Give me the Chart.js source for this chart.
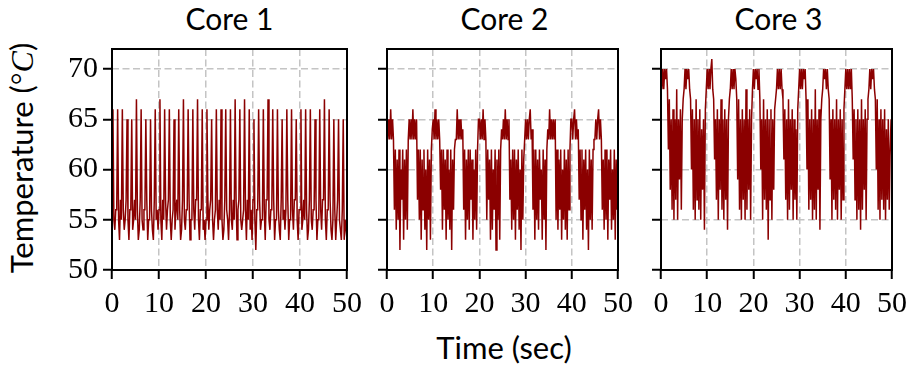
<!DOCTYPE html>
<html>
<head>
<meta charset="utf-8">
<script src="https://cdn.jsdelivr.net/npm/chart.js@4.4.0/dist/chart.umd.min.js"></script>
<style>
  body { margin: 0; width: 914px; height: 371px; position: relative; background: #fff; overflow: hidden; }
  canvas { position: absolute; top: 0; }
  .title { position: absolute; top: 3px; width: 235px; text-align: center; font-family: Lato, sans-serif; font-size: 30px; line-height: 30px; color: #000; }
  #ylabel { position: absolute; left: 22px; top: 158px; transform: translate(-50%, -50%) rotate(-90deg); white-space: nowrap; font-family: Lato, sans-serif; font-size: 31px; line-height: 31px; }
  #ylabel .m { font-family: "Liberation Serif", serif; font-size: 32px; }
  #xlabel { position: absolute; left: 504px; top: 332px; transform: translateX(-50%); white-space: nowrap; font-family: Lato, sans-serif; font-size: 31px; line-height: 31px; }
</style>
</head>
<body>
<div class="title" style="left:112px">Core 1</div>
<div class="title" style="left:387px">Core 2</div>
<div class="title" style="left:661px">Core 3</div>
<div id="ylabel">Temperature (<span class="m">°<i>C</i></span>)</div>
<div id="xlabel">Time (sec)</div>
<canvas id="c1" width="372" height="371" style="left:0px"></canvas>
<canvas id="c2" width="275" height="371" style="left:365px"></canvas>
<canvas id="c3" width="274" height="371" style="left:640px"></canvas>
<script>
// sampling step in seconds
const dt = 0.2;
const xTicks = [0, 10, 20, 30, 40, 50];
const yTicks = [50, 55, 60, 65, 70];

// temperatures, one row = 5 seconds
const core1 = [
  57,66,55,54,56, 56,66,55,53,57, 55,66,56,54,55, 57,65,55,53,56, 56,65,54,55,57,
  55,67,56,53,54, 57,66,55,54,56, 56,65,57,53,55, 55,65,56,54,53, 57,66,55,56,54,
  56,67,55,53,57, 55,66,57,54,56, 57,66,55,53,55, 56,65,54,56,57, 55,66,56,53,54,
  57,67,55,54,56, 56,66,57,53,55, 55,66,56,54,57, 57,67,55,53,56, 56,66,54,55,53,
  55,66,57,54,56, 57,65,55,53,55, 56,66,56,54,57, 55,66,55,53,54, 57,66,56,55,53,
  56,66,55,54,57, 55,67,57,53,56, 57,66,55,54,55, 56,67,56,53,57, 55,66,54,56,53,
  57,65,55,52,56, 56,66,57,54,55, 55,66,56,53,57, 57,67,55,54,56, 56,66,57,53,55,
  55,66,56,54,53, 57,65,55,56,54, 56,66,57,53,55, 55,66,56,54,57, 57,65,55,53,56,
  56,66,54,55,57, 55,66,56,53,54, 57,66,55,54,56, 56,65,57,53,55, 55,66,56,54,57,
  57,67,55,53,56, 56,66,57,54,53, 55,65,56,53,55, 57,65,55,54,53, 56,65,53,55,54,
  53
];

const core2 = [
  65,63,65,63,66,63,65,63, 56,62,54,61,55,62,52,60,57,62,53,61,55,62,54,63,65,
  63,65,63,66,63,65,63,65, 57,62,55,62,53,61,56,62,54,60,52,62,55,61,53,62,64,
  65,63,66,63,65,63,65,63, 58,62,54,62,56,61,53,62,55,60,54,62,52,61,56,62,63,
  63,66,63,65,63,65,63,64, 56,62,53,61,55,62,54,62,57,61,53,60,55,62,54,62,65,
  65,63,65,63,66,63,65,63, 55,62,57,61,53,62,54,60,56,62,52,61,55,62,53,62,64,
  63,65,63,66,63,65,63,65, 57,61,54,62,55,62,53,61,56,62,54,60,52,62,55,61,63,
  65,63,65,63,65,66,63,64, 56,62,53,62,55,61,54,62,57,60,53,62,55,61,52,62,64,
  63,66,63,65,63,65,63,65, 55,62,54,61,56,62,53,60,55,62,54,61,53,62,56,62,65,
  65,63,65,66,63,65,63,64, 57,62,55,62,53,61,56,62,54,60,52,62,55,61,54,62,63,
  63,65,63,65,66,63,65,63, 56,61,54,62,55,62,53,61,57,62,54,60,55,62,53,61,56,
  62
];

const core3 = [
  70,68,70,68,70,69,70,68, 62,67,58,65,56,66,55,65,57,68,55,65,59,66,56,65,67,
  68,70,68,70,69,70,68,67, 60,66,56,65,55,67,57,65,56,66,55,64,58,65,54,66,68,
  70,68,70,68,70,71,68,67, 61,65,57,66,55,65,58,67,56,65,55,66,57,65,54,65,67,
  68,70,68,70,68,70,69,67, 59,67,56,65,55,66,57,65,55,68,56,65,58,66,55,65,68,
  70,68,70,69,70,68,70,67, 60,65,55,67,57,65,56,66,53,65,57,66,55,65,58,66,67,
  68,70,68,70,68,70,68,67, 61,66,57,65,55,67,56,65,58,66,55,65,57,64,55,66,68,
  70,68,70,68,70,69,70,67, 60,67,56,65,57,66,55,65,56,68,55,65,58,66,54,65,67,
  68,70,69,70,68,70,68,67, 59,65,55,66,57,65,56,67,55,65,58,66,55,65,57,66,68,
  70,68,70,68,70,68,70,67, 61,66,57,65,55,66,56,65,54,67,56,65,58,66,55,65,67,
  68,70,68,70,69,70,68,67, 60,67,56,65,55,66,57,65,56,66,55,64,57,65,56,62,65,
  60
];

const lineColor = '#8b0000';
const tickFont = { family: 'Liberation Serif', size: 30 };

const framePlugin = {
  id: 'frame',
  afterDraw(chart) {
    const { ctx, chartArea: a } = chart;
    ctx.save();
    ctx.strokeStyle = '#000';
    ctx.lineWidth = 2;
    ctx.strokeRect(a.left, a.top, a.right - a.left, a.bottom - a.top);
    ctx.restore();
  }
};

const gridOpts = {
  color: '#c4c4c4',
  lineWidth: 1.5,
  tickColor: '#000',
  tickLength: 9,
  tickWidth: 2
};
const borderOpts = { display: false, dash: [7, 3.5] };

function makeChart(id, values, showLabels, yWidth, padRight) {
  const points = values.map((v, i) => ({ x: i * dt, y: v }));
  return new Chart(document.getElementById(id), {
    type: 'line',
    data: {
      datasets: [{
        data: points,
        borderColor: lineColor,
        borderWidth: 1.5,
        pointRadius: 0,
        fill: false,
        tension: 0
      }]
    },
    options: {
      responsive: false,
      animation: false,
      layout: { padding: { left: 0, right: padRight, top: 49, bottom: 0 } },
      plugins: { legend: { display: false }, tooltip: { enabled: false } },
      scales: {
        x: {
          type: 'linear', min: 0, max: 50,
          afterFit: s => { s.height = 101; },
          afterBuildTicks: s => { s.ticks = xTicks.map(v => ({ value: v })); },
          ticks: { autoSkip: false, maxRotation: 0, padding: 7, color: '#000', font: tickFont },
          grid: gridOpts,
          border: borderOpts
        },
        y: {
          type: 'linear', min: 50, max: 72,
          afterFit: s => { s.width = yWidth; },
          afterBuildTicks: s => { s.ticks = yTicks.map(v => ({ value: v })); },
          ticks: { padding: 5, color: '#000', font: tickFont, callback: v => showLabels ? String(v) : '' },
          grid: gridOpts,
          border: borderOpts
        }
      }
    },
    plugins: [framePlugin]
  });
}

makeChart('c1', core1, true, 112, 25);
makeChart('c2', core2, false, 22, 18);
makeChart('c3', core3, false, 21, 18);
</script>
</body>
</html>
